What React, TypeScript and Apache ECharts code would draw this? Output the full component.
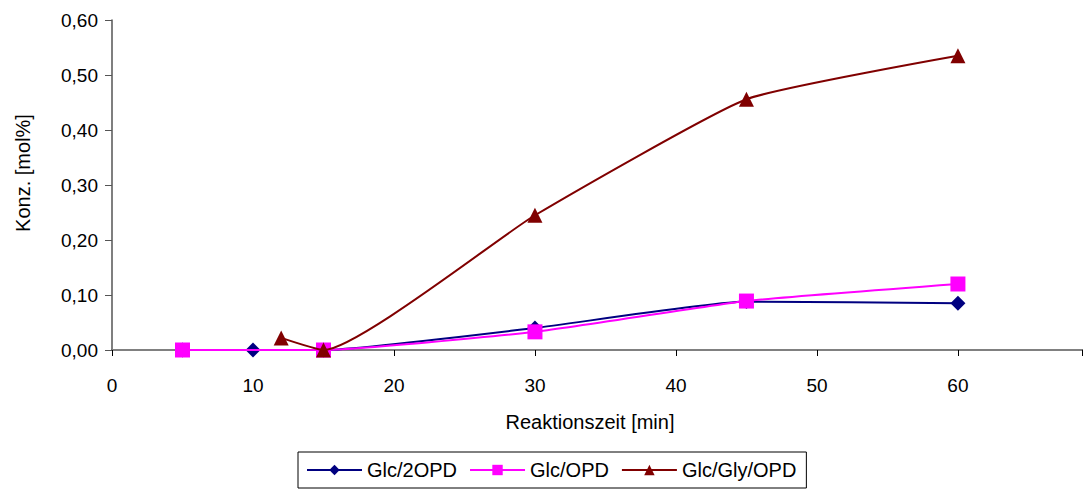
import React, { useEffect, useRef } from "react";
import * as echarts from "echarts";

const seriesNames = ["Glc/2OPD", "Glc/OPD", "Glc/Gly/OPD"];
const glc2opd: [number, number][] = [[5, 0], [10, 0], [15, 0], [30, 0.04], [45, 0.088], [60, 0.085]];
const glcopd: [number, number][] = [[5, 0], [15, 0], [30, 0.033], [45, 0.089], [60, 0.12]];
const glcglyopd: [number, number][] = [[12, 0.022], [15, 0], [30, 0.245], [45, 0.456], [60, 0.535]];
const xTicks = [0, 10, 20, 30, 40, 50, 60];
const colors = ["#000080", "#ff00ff", "#800000"];
const symbols = ["diamond", "rect", "triangle"];
const symbolSizes = [15, 15, 15];

const FONT = "'Liberation Sans', Arial, sans-serif";

export default function App() {
  const ref = useRef<HTMLDivElement>(null);
  useEffect(() => {
    const chart = echarts.init(ref.current!, null, { renderer: "svg" });
    const datas = [glc2opd, glcopd, glcglyopd];
    chart.setOption({
      animation: false,
      textStyle: { fontFamily: FONT },
      grid: { left: 112, top: 20, right: 0, height: 330, containLabel: false },
      legend: {
        data: seriesNames,
        top: 452,
        left: 298,
        itemWidth: 55,
        itemHeight: 13,
        itemGap: 12,
        borderColor: "#000",
        borderWidth: 1,
        padding: [8, 10, 8, 8],
        textStyle: { fontSize: 20, color: "#000", fontFamily: FONT },
      },
      graphic: [
        {
          type: "text",
          x: 23,
          y: 173,
          rotation: Math.PI / 2,
          style: {
            text: "Konz. [mol%]",
            fontSize: 20,
            fontFamily: FONT,
            fill: "#000",
            align: "center",
            verticalAlign: "middle",
          },
        },
      ],
      xAxis: [
        {
          type: "value",
          min: 0,
          max: 68.8,
          interval: 10,
          name: "Reaktionszeit [min]",
          nameLocation: "middle",
          nameGap: 62,
          nameTextStyle: { fontSize: 20, color: "#000", fontFamily: FONT, padding: [0, 14, 0, 0] },
          axisLine: { show: true, onZero: false, lineStyle: { color: "#000", width: 2 } },
          axisTick: { show: true, inside: false, length: 6, lineStyle: { color: "#000" } },
          axisLabel: {
            fontSize: 19,
            color: "#000",
            margin: 26,
            fontFamily: FONT,
            formatter: (v: number) => (xTicks.indexOf(v) >= 0 ? String(v) : ""),
          },
          splitLine: { show: false },
        },
        {
          type: "value",
          position: "top",
          min: 0,
          max: 68.8,
          axisLine: { show: true, lineStyle: { color: "#808080", width: 2 } },
          axisTick: { show: false },
          axisLabel: { show: false },
          splitLine: { show: false },
        },
      ],
      yAxis: {
        type: "value",
        min: 0,
        max: 0.6,
        interval: 0.1,
        axisLine: { show: true, lineStyle: { color: "#555", width: 1.5 } },
        axisTick: { show: true, inside: false, length: 7, lineStyle: { color: "#555" } },
        axisLabel: {
          fontSize: 19,
          color: "#000",
          margin: 14,
          fontFamily: FONT,
          formatter: (v: number) => v.toFixed(2).replace(".", ","),
        },
        splitLine: { show: false },
      },
      series: seriesNames.map((name, i) => ({
        name,
        type: "line",
        xAxisIndex: 0,
        data: datas[i],
        smooth: 0.15,
        symbol: symbols[i],
        symbolSize: symbolSizes[i],
        showAllSymbol: true,
        clip: false,
        lineStyle: { color: colors[i], width: 2 },
        itemStyle: { color: colors[i], borderWidth: 0 },
        z: 2 + i,
      })),
    });
    return () => chart.dispose();
  }, []);
  return <div ref={ref} style={{ width: 1085, height: 492, position: "absolute", left: 0, top: 0 }} />;
}
